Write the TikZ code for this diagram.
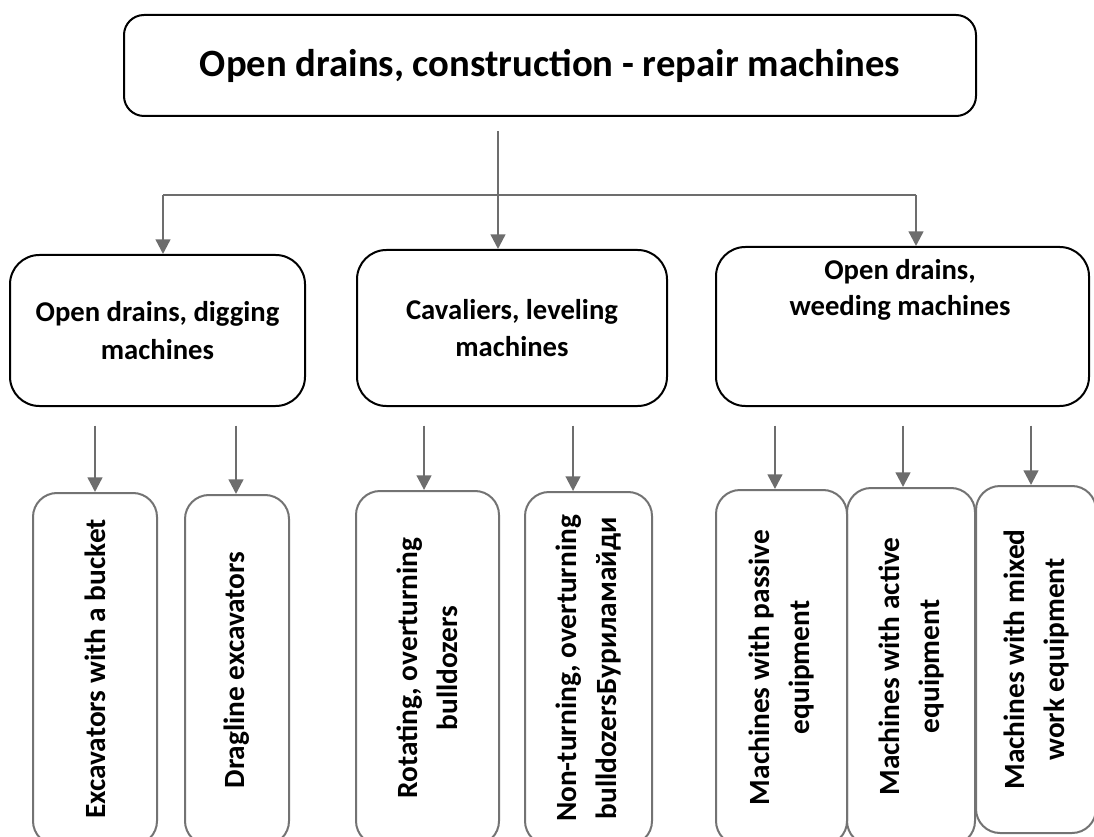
\documentclass[tikz,border=0pt]{standalone}
\usepackage{fontspec}
\setmainfont{Carlito}
\usetikzlibrary{arrows.meta}
\definecolor{linegray}{HTML}{6D6D6D}
\definecolor{boxgray}{HTML}{737373}

\begin{document}
\begin{tikzpicture}[x=0.75pt,y=-0.75pt,
  topbox/.style={draw, line width=1.5pt, rounded corners=15pt, minimum width=639pt, minimum height=75.75pt, font=\fontsize{29}{34}\selectfont\bfseries},
  midbox/.style={draw, line width=1.5pt, rounded corners=22pt, align=center, font=\fontsize{21.5}{28}\selectfont\bfseries},
  midtext/.style={align=center, font=\fontsize{21.5}{27}\selectfont\bfseries},
  lowbox/.style={draw=boxgray, line width=1.5pt, rounded corners=18pt, rotate=90, align=center, font=\fontsize{22}{30}\selectfont\bfseries},
  wire/.style={draw=linegray, line width=1.8pt},
  arrow/.style={wire, -{Triangle[width=11pt,length=11pt]}}]
\useasboundingbox (0,0) rectangle (1094,837);

% top level
\node[topbox] (top) at (550,65.5) {Open drains, construction - repair machines};

% second level
\node[midbox, minimum width=221.25pt, minimum height=113.25pt] (dig) at (157.5,330.5) {Open drains, digging\\ machines};
\node[midbox, minimum width=232.5pt, minimum height=117pt] (cav) at (512,328) {Cavaliers, leveling\\ machines};
\node[midbox, minimum width=279.75pt, minimum height=119.25pt] (weed) at (902.5,326.5) {};
\node[midtext] (weedtext) at (900,290) {Open drains,\\ weeding machines};

% third level
\node[lowbox, minimum width=264pt, minimum height=93pt] (bucket) at (95,669) {Excavators with a bucket};
\node[lowbox, minimum width=262.5pt, minimum height=78pt] (drag) at (237,670) {Dragline excavators};
\node[lowbox, minimum width=265.5pt, minimum height=107.25pt] (rot) at (427.5,668) {Rotating, overturning\\ bulldozers};
\node[lowbox, minimum width=264.75pt, minimum height=95.25pt] (nonturn) at (588.5,668.5) {Non-turning, overturning\\ bulldozersБуриламайди};
\node[lowbox, minimum width=266.25pt, minimum height=98.25pt] (passive) at (781.5,667.5) {Machines with passive\\ equipment};
\node[lowbox, minimum width=267.75pt, minimum height=96pt] (active) at (911,666.5) {Machines with active\\ equipment};
\node[lowbox, minimum width=260.25pt, minimum height=90pt] (mixed) at (1036,659.5) {Machines with mixed\\ work equipment};

% connectors
\coordinate (trunk) at (498,195);
\coordinate (busL) at (163,195);
\coordinate (busR) at (916,195);
\draw[wire] (busL) -- (busR);
\draw[arrow, shorten <=10.5pt] (top.south -| trunk) -- (trunk |- cav.north);
\draw[arrow] (busL) -- (busL |- dig.north);
\draw[arrow] (busR) -- (busR |- weed.north);
\foreach \src/\dst/\dx in {dig/bucket/0, dig/drag/-0.75, cav/rot/-2.6, cav/nonturn/-11.6, weed/passive/-4.9, weed/active/-6, weed/mixed/-3.75}{
  \path ([xshift=\dx pt]\dst.east) coordinate (t);
  \draw[arrow, shorten <=14pt] (\src.south -| t) -- (t);
}
\end{tikzpicture}
\end{document}
